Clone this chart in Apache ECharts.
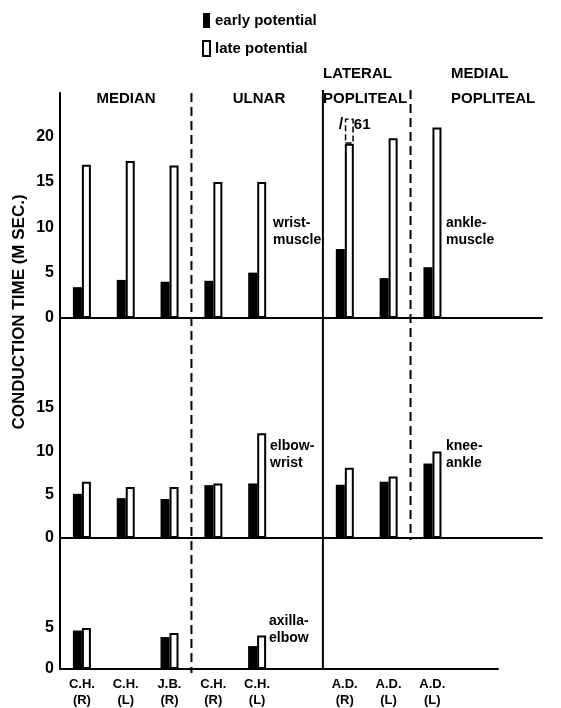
<!DOCTYPE html>
<html><head><meta charset="utf-8">
<script src="https://cdn.jsdelivr.net/npm/echarts@6/dist/echarts.min.js"></script>
<style>html,body{margin:0;padding:0;background:#fff}#c{width:561px;height:708px}</style>
</head><body><div id="c"></div>
<script>
// ---- data ----
const tickLabels = ['C.H.\n(R)','C.H.\n(L)','J.B.\n(R)','C.H.\n(R)','C.H.\n(L)','','A.D.\n(R)','A.D.\n(L)','A.D.\n(L)','',''];
const nerveGroups = ['MEDIAN','ULNAR','LATERAL\nPOPLITEAL','MEDIAL\nPOPLITEAL'];
const segments = ['wrist-\nmuscle','elbow-\nwrist','axilla-\nelbow','ankle-\nmuscle','knee-\nankle'];
const earlyWrist  = [3.4, 4.2, 4.0, 4.1, 5.0, null, 7.6, 4.4, 5.6, null, null];
const lateWrist   = [16.9, 17.3, 16.8, 15.0, 15.0, null, 61, 19.8, 21.0, null, null];
const earlyElbow  = [5.1, 4.6, 4.5, 6.1, 6.3, null, 6.15, 6.5, 8.6, null, null];
const lateElbow   = [6.5, 5.9, 5.9, 6.3, 12.1, null, 8.1, 7.1, 10.0, null, null];
const earlyAxilla = [4.7, null, 3.9, null, 2.8, null, null, null, null, null];
const lateAxilla  = [5.0, null, 4.4, null, 4.1, null, null, null, null, null];
const yTicks = [[0,5,10,15,20],[0,5,10,15],[0,5]];

// ---- chart ----
const FONT = 'Liberation Sans';
const BREAK_AT = 19.2, BREAK_SHOW = 2.8;
const chart = echarts.init(document.getElementById('c'));
const cats = tickLabels.map((_, i) => String(i));
const grids = [
  {left:60, right:19, top:93, height:225},
  {left:60, right:19, top:318, height:220},
  {left:60, right:63, top:538, height:131}
];
const yMax = [24.8, 25.4, 16];
const isBroken = (v) => v != null && v > yMax[0];
const xAxis = grids.map((g, i) => ({
  type:'category', gridIndex:i, data:cats, max: i === 2 ? 9 : null,
  axisLine:{lineStyle:{color:'#000', width:2}}, axisTick:{show:false},
  axisLabel: i === 2 ? {show:true, interval:0, formatter:(v) => tickLabels[+v], color:'#000',
    fontFamily:FONT, fontWeight:'bold', fontSize:13, lineHeight:16, margin:7} : {show:false}
}));
const yAxis = grids.map((g, i) => ({
  type:'value', gridIndex:i, min:0, max:yMax[i], interval:5,
  splitLine:{show:false}, axisTick:{show:false},
  axisLine:{show:true, lineStyle:{color:'#000', width:2}},
  axisLabel:{color:'#000', fontFamily:FONT, fontWeight:'bold', fontSize:16, margin:6,
    showMaxLabel:false,
    formatter:(v) => yTicks[i].includes(v) ? String(v) : ''}
}));
const earlyStyle = {color:'#000'};
const lateStyle = {color:'#fff', borderColor:'#000', borderWidth:2};
function early(data, i) {
  return {name:'early potential', type:'bar', xAxisIndex:i, yAxisIndex:i, data, barWidth:9, barGap:'0%', itemStyle:earlyStyle};
}
function late(data, i, stack) {
  return {name:'late potential', type:'bar', xAxisIndex:i, yAxisIndex:i, data, barWidth:9, barGap:'0%', stack, itemStyle:lateStyle};
}
const series = [
  early(earlyWrist, 0),
  late(lateWrist.map(v => isBroken(v) ? BREAK_AT : v), 0, 'lw'),
  {name:'late potential', type:'bar', xAxisIndex:0, yAxisIndex:0, stack:'lw', barWidth:9, barGap:'0%',
   data: lateWrist.map(v => isBroken(v) ? BREAK_SHOW : null),
   itemStyle:{color:'#fff', borderColor:'#000', borderWidth:1.5, borderType:'dashed'},
   label:{show:true, position:[-6, -2], formatter:(p) => '{s|/}{n|' + lateWrist[p.dataIndex] + '}',
     rich:{s:{fontSize:16, fontWeight:'bold', color:'#000', fontFamily:FONT, width:15},
           n:{fontSize:15, fontWeight:'bold', color:'#000', fontFamily:FONT}}}},
  early(earlyElbow, 1), late(lateElbow, 1),
  early(earlyAxilla, 2), late(lateAxilla, 2)
];
const txt = (text, x, y, size, align, lh) => ({type:'text', x, y, style:{text, fill:'#000',
  font:'bold ' + size + 'px "' + FONT + '"', textAlign:align || 'left', textVerticalAlign:'middle', lineHeight:lh || size + 3}});
const graphic = [
  txt(nerveGroups[0], 126, 99, 15, 'center'),
  txt(nerveGroups[1], 259, 99, 15, 'center'),
  txt(nerveGroups[2], 323, 86, 15, 'left', 25),
  txt(nerveGroups[3], 451, 86, 15, 'left', 25),
  txt(segments[0], 273, 232, 14),
  txt(segments[1], 270, 455, 14),
  txt(segments[2], 269, 630, 14),
  txt(segments[3], 446, 232, 14),
  txt(segments[4], 446, 455, 14),
  {type:'text', x:19, y:312, rotation:Math.PI/2, style:{text:'CONDUCTION TIME (M SEC.)', fill:'#000',
    font:'bold 17px "' + FONT + '"', textAlign:'center', textVerticalAlign:'middle'}}
];
chart.setOption({
  backgroundColor:'#fff', animation:false,
  grid: grids, xAxis, yAxis, series, graphic,
  legend:{data:['early potential','late potential'], orient:'vertical', left:197, top:8,
    itemWidth:7, itemHeight:15, itemGap:12, icon:'rect',
    textStyle:{fontFamily:FONT, fontWeight:'bold', fontSize:15, color:'#000'}}
});
// separators at category boundaries
function boundaryX(k) {
  const a = chart.convertToPixel({xAxisIndex:0}, String(k - 1));
  const b = chart.convertToPixel({xAxisIndex:0}, String(k));
  return (a + b) / 2;
}
const yTop = chart.convertToPixel({yAxisIndex:0}, yMax[0]);
const y2 = chart.convertToPixel({yAxisIndex:1}, 0);
const y3 = chart.convertToPixel({yAxisIndex:2}, 0);
const sep = (k, y1, yEnd, dashed) => ({type:'line', shape:{x1:boundaryX(k), y1, x2:boundaryX(k), y2:yEnd},
  style:{stroke:'#000', lineWidth:2, lineDash: dashed ? [9,5] : null}});
chart.setOption({graphic: graphic.concat([
  sep(3, yTop, y3 + 4, true),
  sep(6, yTop - 3, y3, false),
  sep(8, yTop - 3, y2 + 2, true)
])});
</script></body></html>
